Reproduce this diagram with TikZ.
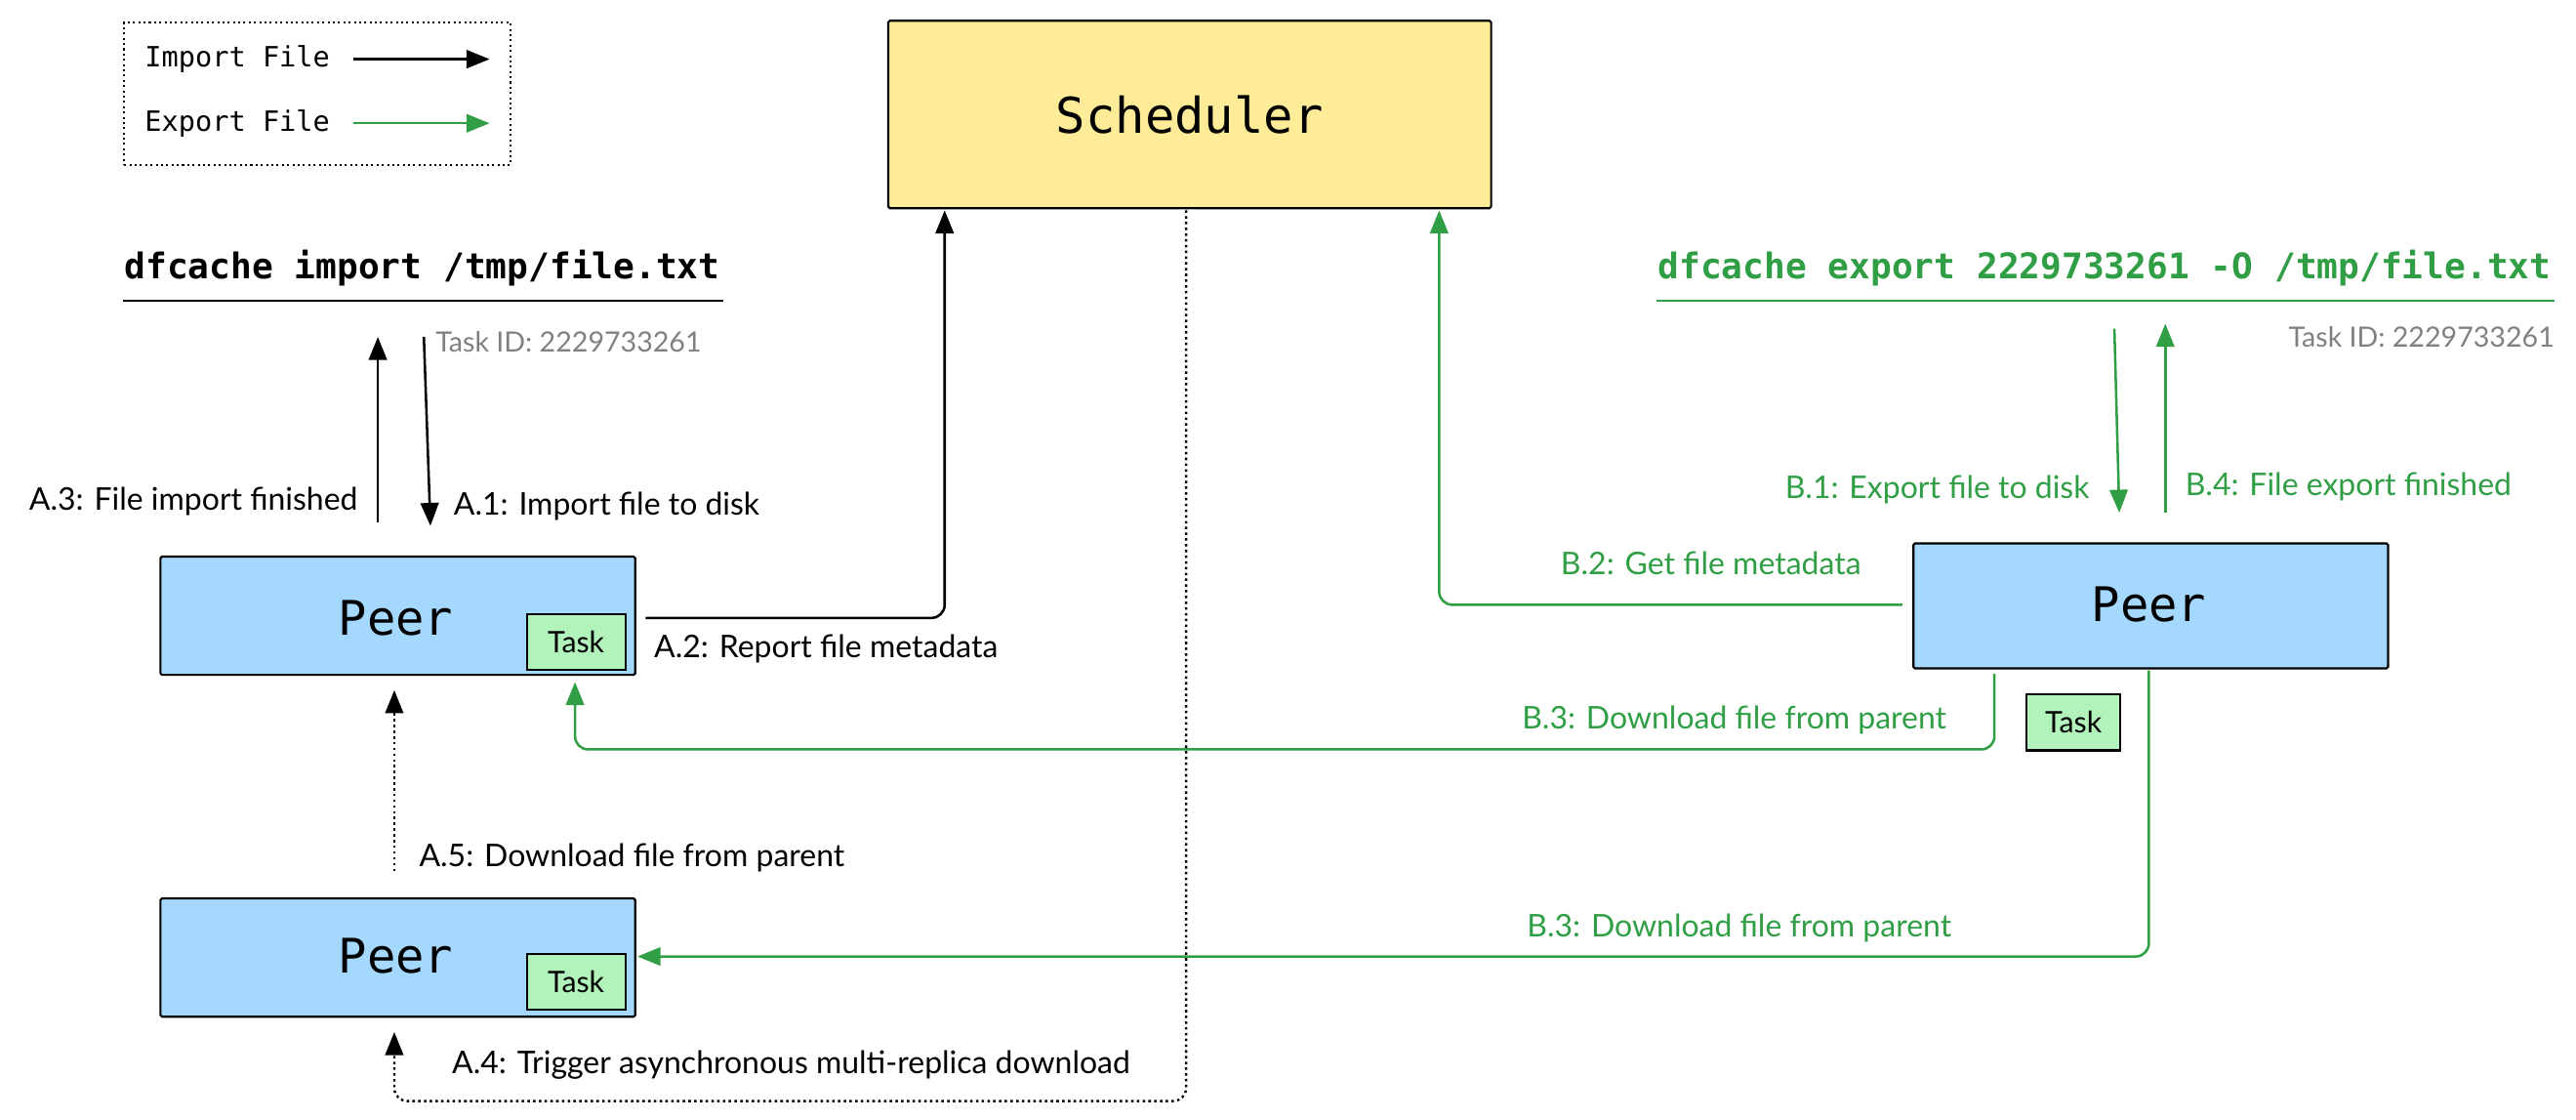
\documentclass[tikz,border=0pt]{standalone}
\usepackage{fontspec}
\setmainfont{Lato}
\setmonofont{DejaVu Sans Mono}
\usetikzlibrary{arrows.meta}
\definecolor{gr}{HTML}{2F9E44}
\definecolor{peerblue}{HTML}{A5D8FF}
\definecolor{taskgreen}{HTML}{B2F2BB}
\definecolor{schedy}{HTML}{FFEC99}
\tikzset{
  box/.style={draw=black,line width=1.3pt,rounded corners=1pt,anchor=north west,inner sep=0pt},
  peer/.style={box,fill=peerblue,minimum width=289pt,minimum height=72pt},
  taskbox/.style={draw=black,line width=1.2pt,fill=taskgreen,minimum width=60pt,minimum height=34pt,inner sep=0pt,font=\fontsize{18}{20}\selectfont,anchor=north west},
  lbl/.style={font=\fontsize{19}{21}\selectfont,inner sep=0pt},
  peertxt/.style={font=\ttfamily\fontsize{29}{32}\selectfont},
  arr/.style={line width=1.5pt,-{Triangle[length=14pt,width=11pt]},rounded corners=8pt},
  garr/.style={arr,draw=gr},
  dot/.style={arr,dotted,line width=1.4pt},
}
\begin{document}
\begin{tikzpicture}[x=1pt,y=-1pt]
\useasboundingbox (0,0) rectangle (1568,681);
% legend
\node[draw,dotted,line width=1.2pt,minimum width=235pt,minimum height=87pt,anchor=north west,inner sep=0] (leg) at (75,13) {};
\node[lbl,anchor=west,font=\ttfamily\fontsize{17}{19}\selectfont] (li) at (88,36) {Import File};
\node[lbl,anchor=west,font=\ttfamily\fontsize{17}{19}\selectfont] (le) at (88,75) {Export File};
\coordinate (li1) at (215,36); \coordinate (li2) at (298,36);
\coordinate (le1) at (215,75); \coordinate (le2) at (298,75);
\draw[arr] (li1) -- (li2);
\draw[garr] (le1) -- (le2);
% scheduler
\node[box,fill=schedy,minimum width=367pt,minimum height=114pt,font=\ttfamily\fontsize{30}{34}\selectfont] (sch) at (540,12) {Scheduler};
% left command
\node[font=\ttfamily\bfseries\fontsize{21.5}{24}\selectfont,inner sep=0] (cmdl) at (257,163) {dfcache import /tmp/file.txt};
\coordinate (ul1) at (75,183); \coordinate (ul2) at (440,183);
\draw[line width=1.3pt] (ul1) -- (ul2);
\node[lbl,anchor=west,text=gray,font=\fontsize{17}{19}\selectfont] (tidl) at (265,208) {Task ID: 2229733261};
% right command
\node[font=\ttfamily\bfseries\fontsize{21.5}{24}\selectfont,inner sep=0,text=gr] (cmdr) at (1281,163) {dfcache export 2229733261 -O /tmp/file.txt};
\coordinate (ur1) at (1008,183); \coordinate (ur2) at (1555,183);
\draw[line width=1.3pt,gr] (ur1) -- (ur2);
\node[lbl,anchor=east,text=gray,font=\fontsize{17}{19}\selectfont] (tidr) at (1555,205) {Task ID: 2229733261};
% peers
\node[peer] (p1) at (97,338) {};
\node[peertxt] at (241,376) {Peer};
\node[taskbox] (t1) at (320,373) {Task};
\node[peer] (p2) at (97,546) {};
\node[peertxt] at (241,582) {Peer};
\node[taskbox] (t2) at (320,580) {Task};
\node[peer,minimum height=76pt] (p3) at (1164,330) {};
\node[peertxt] at (1308,368) {Peer};
\node[taskbox,minimum width=57pt] (t3) at (1233,422) {Task};
% left arrows
\coordinate (a3s) at (230,318); \coordinate (a3e) at (230,205);
\coordinate (a1s) at (258,205); \coordinate (a1e) at (262,320);
\draw[arr] (a3s) -- (a3e);
\draw[arr] (a1s) -- (a1e);
\node[lbl,anchor=east] at (218,305) {A.3: File import finished};
\node[lbl,anchor=west] at (276,308) {A.1: Import file to disk};
% A.2
\coordinate (a2s) at (393,376);
\draw[arr] (a2s) -- (575,376) -- (575,128);
\node[lbl,anchor=west] at (398,395) {A.2: Report file metadata};
% A.4
\coordinate (a4s) at (722,128); \coordinate (a4e) at (240,628);
\draw[dot] (a4s) -- (722,670) -- (240,670) -- (a4e);
\node[lbl,anchor=west] at (275,648) {A.4: Trigger asynchronous multi-replica download};
% A.5
\coordinate (a5s) at (240,530); \coordinate (a5e) at (240,420);
\draw[dot] (a5s) -- (a5e);
\node[lbl,anchor=west] at (255,522) {A.5: Download file from parent};
% right arrows
\coordinate (b1s) at (1287,200); \coordinate (b1e) at (1290,312);
\coordinate (b4s) at (1318,312); \coordinate (b4e) at (1318,197);
\draw[garr] (b1s) -- (b1e);
\draw[garr] (b4s) -- (b4e);
\node[lbl,anchor=east,text=gr] at (1272,298) {B.1: Export file to disk};
\node[lbl,anchor=west,text=gr] at (1330,296) {B.4: File export finished};
% B.2
\coordinate (b2s) at (1158,368);
\draw[garr] (b2s) -- (876,368) -- (876,128);
\node[lbl,anchor=east,text=gr] at (1133,343) {B.2: Get file metadata};
% B.3 upper
\coordinate (b3s) at (1214,410); \coordinate (b3e) at (350,415);
\draw[garr] (b3s) -- (1214,456) -- (350,456) -- (b3e);
\node[lbl,anchor=east,text=gr] at (1185,438) {B.3: Download file from parent};
% B.3 lower
\coordinate (b3bs) at (1308,408); \coordinate (b3be) at (388,582);
\draw[garr] (b3bs) -- (1308,582) -- (b3be);
\node[lbl,anchor=east,text=gr] at (1188,565) {B.3: Download file from parent};
\end{tikzpicture}
\end{document}
